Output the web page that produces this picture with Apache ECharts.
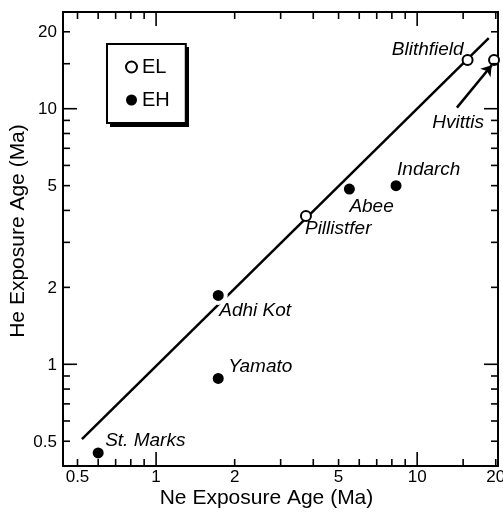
<!DOCTYPE html>
<html><head><meta charset="utf-8">
<script src="https://cdn.jsdelivr.net/npm/echarts@6/dist/echarts.min.js"></script>
<style>html,body{margin:0;padding:0;background:#fff}#c{width:503px;height:514px}</style>
</head><body><div id="c"></div>
<script>
// ---- data ----
const elNames = ['Pillistfer', 'Blithfield', 'Hvittis'];
const elNe = [3.75, 15.6, 19.7];
const elHe = [3.8, 15.5, 15.5];
const ehNames = ['St. Marks', 'Adhi Kot', 'Yamato', 'Abee', 'Indarch'];
const ehNe = [0.6, 1.73, 1.73, 5.5, 8.3];
const ehHe = [0.45, 1.86, 0.88, 4.85, 5.0];
const fitNe = [0.52, 18.8];
const fitHe = [0.51, 18.9];
const arrowFrom = [14.2, 10.1];
const arrowTo = [19.3, 14.8];
const xTicks = [0.5, 0.6, 0.7, 0.8, 0.9, 1, 2, 3, 4, 5, 6, 7, 8, 9, 10, 15, 20];
const yTicks = [0.5, 0.6, 0.7, 0.8, 0.9, 1, 2, 3, 4, 5, 6, 7, 8, 9, 10, 15, 20];
const majorTicks = [1, 10];
const xTickLabels = ['0.5', '1', '2', '5', '10', '20'];
const yTickLabels = ['0.5', '1', '2', '5', '10', '20'];
const X_MIN = 0.44, X_MAX = 20.4, Y_MIN = 0.40, Y_MAX = 23.9;

// ---- label placement (style) ----
const labelPos = {
  'St. Marks': { align: 'left', offset: [7, -12] },
  'Adhi Kot': { align: 'left', offset: [1, 15] },
  'Yamato': { align: 'left', offset: [10, -12] },
  'Abee': { align: 'left', offset: [0, 18] },
  'Indarch': { align: 'left', offset: [1, -16] },
  'Pillistfer': { align: 'left', offset: [-1, 13] },
  'Blithfield': { align: 'right', offset: [-4, -10] },
  'Hvittis': { align: 'right', offset: [-10, 63] }
};
const FONT = '"Liberation Sans", Arial, sans-serif';

function mkItem(name, x, y, extra) {
  const lp = labelPos[name];
  return Object.assign({
    name: name,
    value: [x, y],
    label: {
      show: true, formatter: name, position: 'inside', align: lp.align, verticalAlign: 'middle',
      offset: lp.offset, color: '#000', fontSize: 19, fontStyle: 'italic', fontFamily: FONT
    }
  }, extra || {});
}

function renderXTick(params, api) {
  const v = api.value(0);
  const b = api.coord([v, Y_MIN]);
  const t = api.coord([v, Y_MAX]);
  const len = majorTicks.indexOf(v) >= 0 ? 14 : 7;
  const st = { stroke: '#000', lineWidth: 1.6 };
  const children = [
    { type: 'line', shape: { x1: b[0], y1: b[1], x2: b[0], y2: b[1] - len }, style: st },
    { type: 'line', shape: { x1: t[0], y1: t[1], x2: t[0], y2: t[1] + len }, style: st }
  ];
  const idx = xTickLabels.map(Number).indexOf(v);
  if (idx >= 0) {
    children.push({ type: 'text', x: b[0], y: b[1] + 3,
      style: { text: xTickLabels[idx], font: '17px ' + FONT, fill: '#000', align: 'center', verticalAlign: 'top' } });
  }
  return { type: 'group', children: children };
}
function renderYTick(params, api) {
  const v = api.value(1);
  const l = api.coord([X_MIN, v]);
  const r = api.coord([X_MAX, v]);
  const len = majorTicks.indexOf(v) >= 0 ? 14 : 7;
  const st = { stroke: '#000', lineWidth: 1.6 };
  const children = [
    { type: 'line', shape: { x1: l[0], y1: l[1], x2: l[0] + len, y2: l[1] }, style: st },
    { type: 'line', shape: { x1: r[0], y1: r[1], x2: r[0] - len, y2: r[1] }, style: st }
  ];
  const idx = yTickLabels.map(Number).indexOf(v);
  if (idx >= 0) {
    children.push({ type: 'text', x: l[0] - 6, y: l[1] + 1,
      style: { text: yTickLabels[idx], font: '17px ' + FONT, fill: '#000', align: 'right', verticalAlign: 'middle' } });
  }
  return { type: 'group', children: children };
}

const chart = echarts.init(document.getElementById('c'), null, { renderer: 'canvas' });
chart.setOption({
  animation: false,
  backgroundColor: '#fff',
  textStyle: { fontFamily: FONT },
  grid: { left: 60, top: 12, right: 5, bottom: 46, show: true, borderColor: '#000', borderWidth: 2, backgroundColor: 'transparent' },
  xAxis: {
    type: 'log', logBase: 10, min: X_MIN, max: X_MAX,
    axisLine: { show: false }, axisTick: { show: false }, axisLabel: { show: false }, splitLine: { show: false },
    name: 'Ne Exposure Age (Ma)', nameLocation: 'middle', nameGap: 22,
    nameTextStyle: { fontSize: 21, color: '#000', fontFamily: FONT, padding: [0, 28, 0, 0] }
  },
  yAxis: {
    type: 'log', logBase: 10, min: Y_MIN, max: Y_MAX,
    axisLine: { show: false }, axisTick: { show: false }, axisLabel: { show: false }, splitLine: { show: false },
    name: 'He Exposure Age (Ma)', nameLocation: 'middle', nameGap: 34,
    nameTextStyle: { fontSize: 21, color: '#000', fontFamily: FONT, padding: [0, 0, 0, 16] }
  },
  graphic: [
    { type: 'rect', left: 110, top: 47, z: 1, shape: { width: 79, height: 80 }, style: { fill: '#000' }, silent: true }
  ],
  legend: {
    data: ['EL', 'EH'], orient: 'vertical', left: 107, top: 44, padding: [13, 16, 13, 18], itemGap: 13,
    itemWidth: 11, itemHeight: 11, selectedMode: false, z: 4,
    textStyle: { fontSize: 20, color: '#000', fontFamily: FONT },
    backgroundColor: '#fff', borderColor: '#000', borderWidth: 2, borderRadius: 0
  },
  series: [
    {
      name: 'fit', type: 'line', z: 2, symbol: 'none', silent: true,
      data: fitNe.map((x, i) => [x, fitHe[i]]),
      lineStyle: { color: '#000', width: 2.5 }
    },
    {
      name: 'EL', type: 'scatter', z: 5, symbol: 'circle', symbolSize: 10,
      itemStyle: { color: '#fff', borderColor: '#000', borderWidth: 2, opacity: 1 },
      data: elNames.map((n, i) => mkItem(n, elNe[i], elHe[i])),
      markLine: {
        silent: true, symbol: ['none', 'arrow'], symbolSize: 10, animation: false,
        lineStyle: { color: '#000', width: 2.5, type: 'solid' }, label: { show: false },
        emphasis: { disabled: true },
        data: [[{ coord: arrowFrom }, { coord: arrowTo }]]
      }
    },
    {
      name: 'EH', type: 'scatter', z: 5, symbol: 'circle', symbolSize: 11,
      itemStyle: { color: '#000', opacity: 1 },
      data: ehNames.map((n, i) => mkItem(n, ehNe[i], ehHe[i],
        n === 'Adhi Kot' ? { symbolSize: 15, itemStyle: { color: '#000', borderColor: '#fff', borderWidth: 4 } } : null))
    },
    {
      name: 'xticks', type: 'custom', z: 6, silent: true, clip: false,
      data: xTicks.map(v => [v, Y_MIN]), encode: { x: 0, y: 1 }, renderItem: renderXTick
    },
    {
      name: 'yticks', type: 'custom', z: 6, silent: true, clip: false,
      data: yTicks.map(v => [X_MIN, v]), encode: { x: 0, y: 1 }, renderItem: renderYTick
    }
  ]
});
</script>
</body></html>
